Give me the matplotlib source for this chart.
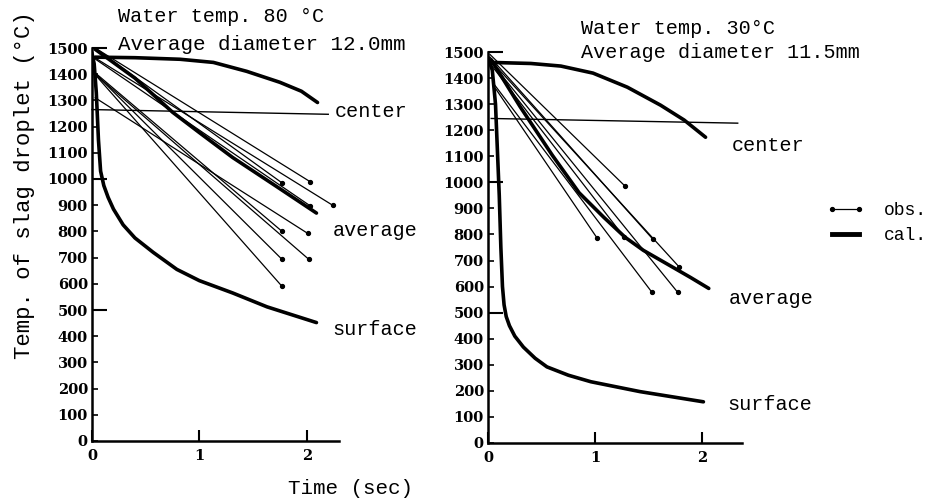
import numpy as np
import matplotlib
matplotlib.use("Agg")
import matplotlib.pyplot as plt
from matplotlib.lines import Line2D

plt.rcParams['font.family'] = ['Liberation Mono', 'DejaVu Sans Mono']

# ---- left panel: water 80 C, d = 12.0 mm ----
left_center_t = [0.03, 0.4, 0.82, 1.13, 1.44, 1.75, 1.95, 2.10]
left_center_T = [1465, 1463, 1457, 1445, 1411, 1369, 1335, 1292]

left_avg_t = [0.03, 0.4, 0.75, 1.0, 1.31, 1.72, 2.09]
left_avg_T = [1495, 1385, 1255, 1177, 1082, 971, 870]

left_surf_t = [0.0, 0.02, 0.04, 0.06, 0.08, 0.11, 0.15, 0.2, 0.29, 0.4, 0.57, 0.79, 1.0, 1.31, 1.63, 2.09]
left_surf_T = [1480, 1440, 1330, 1150, 1030, 975, 930, 885, 825, 775, 720, 655, 612, 565, 512, 452]

left_ref_t = [0.0, 2.2]
left_ref_T = [1265, 1247]

left_obs_T0 = [1500, 1498, 1462, 1458, 1405, 1310, 1402, 1400, 1398]
left_obs_t1 = [2.03, 1.77, 2.24, 2.03, 1.77, 2.01, 1.77, 2.02, 1.77]
left_obs_T1 = [990, 985, 900, 898, 800, 792, 693, 693, 590]

# ---- right panel: water 30 C, d = 11.5 mm ----
right_center_t = [0.03, 0.4, 0.68, 0.98, 1.30, 1.61, 1.83, 2.03]
right_center_T = [1460, 1456, 1446, 1419, 1365, 1296, 1239, 1173]

right_avg_t = [0.03, 0.3, 0.6, 0.85, 1.08, 1.28, 1.45, 1.7, 1.89, 2.06]
right_avg_T = [1470, 1290, 1104, 960, 866, 789, 739, 680, 635, 593]

right_surf_t = [0.0, 0.04, 0.07, 0.09, 0.105, 0.12, 0.135, 0.15, 0.17, 0.2, 0.25, 0.33, 0.44, 0.55, 0.75, 0.96, 1.42, 2.01]
right_surf_T = [1480, 1430, 1300, 1100, 950, 750, 600, 530, 485, 450, 410, 368, 325, 292, 260, 235, 197, 158]

right_ref_t = [0.03, 2.33]
right_ref_T = [1245, 1227]

right_obs_t0 = [0.02, 0.02, 0.02, 0.03, 0.03, 0.07, 0.05]
right_obs_T0 = [1490, 1480, 1470, 1460, 1450, 1360, 1380]
right_obs_t1 = [1.28, 1.54, 1.78, 1.77, 1.27, 1.02, 1.53]
right_obs_T1 = [985, 781, 677, 578, 790, 785, 578]

y_ticks = list(range(0, 1600, 100))
x_ticks = [0, 1, 2]

TICKFONT = dict(family='DejaVu Serif', weight='bold', size=10.5)
TXT = 14.5


def setup_axes(ax, xmax):
    ax.set_xlim(0, xmax)
    ax.set_ylim(0, 1500)
    for s in ['top', 'right']:
        ax.spines[s].set_visible(False)
    for s in ['left', 'bottom']:
        ax.spines[s].set_linewidth(1.8)
    ax.set_yticks(y_ticks)
    ax.set_yticklabels([str(v) for v in y_ticks], fontdict=TICKFONT)
    ax.set_yticks([500, 1000, 1500], minor=True)
    ax.yaxis.remove_overlapping_locs = False
    ax.tick_params(axis='y', which='major', direction='in', length=4, width=1.2, pad=3)
    ax.tick_params(axis='y', which='minor', direction='in', length=11, width=1.5)
    ax.set_xticks(x_ticks)
    ax.set_xticklabels([str(v) for v in x_ticks], fontdict=TICKFONT)
    ax.tick_params(axis='x', direction='in', length=8, width=1.5, pad=6)


def draw_obs(ax, t0, T0, t1, T1):
    for a, b, c, d in zip(t0, T0, t1, T1):
        ax.plot([a, c], [b, d], color='black', lw=0.9, marker='o', ms=2.8,
                markevery=[1], clip_on=False)


fig = plt.figure(figsize=(9.35, 5.0), dpi=100)
ax1 = fig.add_axes([92 / 935, 1 - 441 / 500, 247 / 935, 393 / 500])
ax2 = fig.add_axes([488 / 935, 1 - 443 / 500, 254 / 935, 391 / 500])

setup_axes(ax1, 2.3)
setup_axes(ax2, 2.37)

# left
ax1.plot(left_ref_t, left_ref_T, color='black', lw=1.0, clip_on=False)
draw_obs(ax1, [0.03] * len(left_obs_T0), left_obs_T0, left_obs_t1, left_obs_T1)
ax1.plot(left_center_t, left_center_T, color='black', lw=2.6, solid_capstyle='round')
ax1.plot(left_avg_t, left_avg_T, color='black', lw=2.6, solid_capstyle='round')
ax1.plot(left_surf_t, left_surf_T, color='black', lw=2.6, solid_capstyle='round')
ax1.text(2.26, 1258, 'center', fontsize=TXT, va='center', ha='left', clip_on=False)
ax1.text(2.24, 802, 'average', fontsize=TXT, va='center', ha='left', clip_on=False)
ax1.text(2.24, 424, 'surface', fontsize=TXT, va='center', ha='left', clip_on=False)

# right
ax2.plot(right_ref_t, right_ref_T, color='black', lw=1.0, clip_on=False)
draw_obs(ax2, right_obs_t0, right_obs_T0, right_obs_t1, right_obs_T1)
ax2.plot(right_center_t, right_center_T, color='black', lw=2.6, solid_capstyle='round')
ax2.plot(right_avg_t, right_avg_T, color='black', lw=2.6, solid_capstyle='round')
ax2.plot(right_surf_t, right_surf_T, color='black', lw=2.6, solid_capstyle='round')
ax2.text(2.27, 1143, 'center', fontsize=TXT, va='center', ha='left', clip_on=False)
ax2.text(2.25, 555, 'average', fontsize=TXT, va='center', ha='left', clip_on=False)
ax2.text(2.23, 148, 'surface', fontsize=TXT, va='center', ha='left', clip_on=False)

# headers
fig.text(118 / 935, 1 - 17 / 500, 'Water temp. 80 °C', fontsize=TXT, va='center')
fig.text(118 / 935, 1 - 44 / 500, 'Average diameter 12.0mm', fontsize=15, va='center')
fig.text(581 / 935, 1 - 28 / 500, 'Water temp. 30°C', fontsize=TXT, va='center')
fig.text(581 / 935, 1 - 53 / 500, 'Average diameter 11.5mm', fontsize=TXT, va='center')

fig.text(25 / 935, 1 - 185 / 500, 'Temp. of slag droplet (°C)', fontsize=16,
         rotation=90, va='center', ha='center')
fig.text(350 / 935, 1 - 488 / 500, 'Time (sec)', fontsize=15, va='center', ha='center')

# legend
handles = [Line2D([0], [0], color='black', lw=0.9, marker='o', ms=2.8),
           Line2D([0], [0], color='black', lw=3.5)]
fig.legend(handles, ['obs.', 'cal.'], loc='center left', bbox_to_anchor=(827 / 935, 1 - 223 / 500),
           frameon=False, fontsize=13, handlelength=2.05, handletextpad=1.1,
           labelspacing=0.45, numpoints=2, borderpad=0, borderaxespad=0)

fig.savefig('out.png', dpi=100)
